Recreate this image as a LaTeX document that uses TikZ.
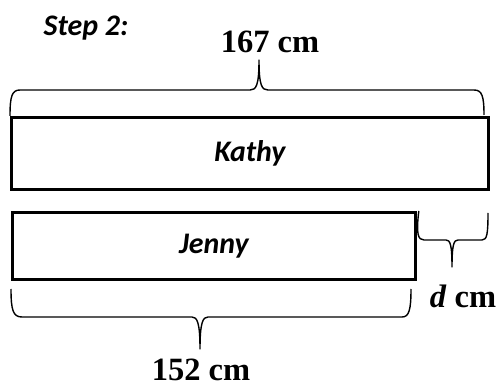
\documentclass[tikz,border=0pt]{standalone}
\usepackage{fontspec}
\setmainfont{Liberation Serif}
\setsansfont{Carlito}

\begin{document}
\begin{tikzpicture}[x=0.02cm, y=-0.02cm,
    bar/.style={draw, line width=1.6pt, inner sep=0pt, anchor=north west},
    person/.style={font=\sffamily\bfseries\itshape\fontsize{17}{19}\selectfont},
    measure/.style={font=\bfseries\fontsize{18.5}{20}\selectfont, anchor=base, inner sep=0pt},
    curly/.style={line width=0.8pt, line join=round}]
    \useasboundingbox (0,0) rectangle (497,388);
    \node[person] (step) at (86,28) {Step 2:};
    % the two bars
    \node[bar, minimum width=477*0.02cm, minimum height=72*0.02cm] (kathy) at (10,116) {};
    \node[person] (kathylbl) at (kathy.center) {Kathy};
    \node[bar, minimum width=403*0.02cm, minimum height=67*0.02cm] (jenny) at (11,211) {};
    \node[person] (jennylbl) at (jenny.center) {Jenny};
    % lengths
    \node[measure] (top) at (270,53) {167 cm};
    \node[measure] (bottom) at (201,380) {152 cm};
    \node[measure] (diff) at (463,307) {\textit{d} cm};
    % brace over Kathy
    \draw[curly] (kathy.north west) .. controls (10,96) and (12,90) .. (20,90)
        -- (250,90) .. controls (256,90) and (259,86) .. (259,60)
        .. controls (259,86) and (262,90) .. (268,90)
        -- (474,90) .. controls (482,90) and (484,96) .. (484,115);
    % brace under Jenny
    \draw[curly] (11,289) .. controls (11,310) and (13,317) .. (22,317)
        -- (192,317) .. controls (197,317) and (200,322) .. (200,349)
        .. controls (200,322) and (203,317) .. (208,317)
        -- (402,317) .. controls (409,317) and (411,310) .. (411,289);
    % brace for the gap
    \draw[curly] (jenny.north east) ++(2,0) .. controls (416,234) and (418,240) .. (424,240)
        -- (446,240) .. controls (450,240) and (452,244) .. (452,267)
        .. controls (452,244) and (454,240) .. (458,240)
        -- (482,240) .. controls (487,240) and (488,234) .. (488,213);
\end{tikzpicture}
\end{document}
